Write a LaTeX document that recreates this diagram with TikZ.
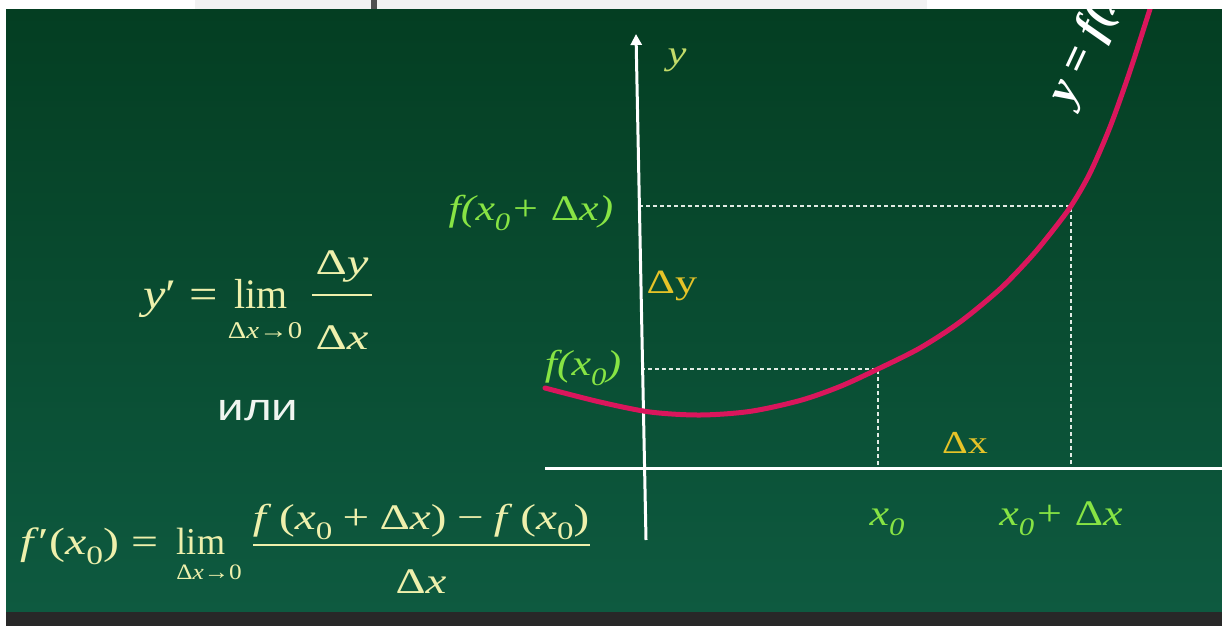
\documentclass[tikz,border=0pt]{standalone}
\usepackage{fontspec}
\usepackage{graphicx}
\setmainfont{Liberation Serif}
\newfontfamily\cyrsans{Liberation Sans}
\usetikzlibrary{arrows.meta}
\definecolor{bgtop}{RGB}{4,62,34}
\definecolor{bgbot}{RGB}{14,90,64}
\definecolor{fcol}{RGB}{238,240,172}
\definecolor{lgreen}{RGB}{135,228,68}
\definecolor{dyel}{RGB}{230,195,40}
\definecolor{ycol}{RGB}{195,220,105}
\definecolor{curvecol}{RGB}{218,22,92}
\definecolor{stripgrey}{RGB}{242,242,242}
\definecolor{barcol}{RGB}{40,40,40}
\definecolor{tickcol}{RGB}{80,80,80}
\definecolor{dashcol}{RGB}{225,235,228}
\definecolor{ilicol}{RGB}{240,245,240}
\newcommand{\sx}[2]{\scalebox{#1}[1]{#2}}
\newcommand{\fs}[1]{\fontsize{#1}{#1}\selectfont}
\newcommand{\lsub}[1]{\raisebox{-0.28em}{\scalebox{0.7}{#1}}}
\newcommand{\msp}{\hspace{0.22em}}
\tikzset{
  txt/.style={inner sep=0pt, outer sep=0pt},
  fml/.style={txt, text=fcol},
  glbl/.style={txt, text=lgreen, font=\fs{36}\itshape},
  dlbl/.style={txt, text=dyel},
  axisline/.style={white, line width=3pt},
  guide/.style={dashcol, line width=1.4pt, dash pattern=on 4pt off 3pt},
  fbar/.style={fcol, line width=2pt},
}
\begin{document}
\begin{tikzpicture}[x=1pt, y=-1pt]
\useasboundingbox (0,0) rectangle (1222,626);
% frame
\fill[white] (0,0) rectangle (1222,626);
\fill[stripgrey] (195,0) rectangle (927,10);
\fill[tickcol] (371,0) rectangle (377,10);
\shade[top color=bgtop, bottom color=bgbot] (6,10) rectangle (1222,612);
\fill[barcol] (6,612) rectangle (1222,626);

% guides
\coordinate (p1) at (878,369);
\coordinate (p2) at (1071,206);
\coordinate (g1) at (641,369);
\coordinate (g2) at (639,206);
\coordinate (q1) at (878,468);
\coordinate (q2) at (1071,468);
\draw[guide] (g1) -- (p1) -- (q1);
\draw[guide] (g2) -- (p2) -- (q2);

% axes
\coordinate (ybot) at (646,540);
\coordinate (ytop) at (636,34);
\coordinate (xl) at (545,468);
\coordinate (xr) at (1222,468);
\draw[axisline] (xl) -- (xr);
\draw[axisline, -{Triangle[width=11pt,length=11pt]}] (ybot) -- (ytop);

% curve and its label
\begin{scope}
\clip (6,10) rectangle (1222,612);
\draw[curvecol, line width=5pt, line cap=round] plot[smooth, tension=0.5] coordinates
 {(545,388) (600,402) (650,412) (700,415) (750,411.4) (800,400.5) (840,386.5) (878,369) (920,348) (960,322) (1000,289) (1030,258) (1050,234) (1071,206) (1090,173) (1110,127) (1130,71) (1150,9) (1153,0)};
\node[txt, text=white, font=\fs{46}\bfseries\itshape, anchor=base west, rotate=65] (yfx) at (1071,106) {y = f(x)};
\end{scope}

% axis labels
\node[txt, text=ycol, font=\fs{34}\itshape, anchor=base] (ylab) at (677,64) {\sx{1.25}{y}};
\node[glbl, anchor=base] (lfx0dx) at (531,220) {\sx{1.22}{f(x\lsub{0}+ \textup{Δ}x)}};
\node[glbl, anchor=base] (lfx0) at (583,375) {\sx{1.22}{f(x\lsub{0})}};
\node[glbl, anchor=base] (lx0) at (887,525) {\sx{1.22}{x\lsub{0}}};
\node[glbl, anchor=base] (lx0dx) at (1061,525) {\sx{1.22}{x\lsub{0}+ \textup{Δ}x}};
\node[dlbl, font=\fs{34}, anchor=base] (ldy) at (672,293) {\sx{1.3}{Δy}};
\node[dlbl, font=\fs{32}, anchor=base] (ldx) at (965,453) {\sx{1.25}{Δx}};

% formula 1
\node[fml, font=\fs{42}, anchor=base east] (f1lhs) at (218,308) {\sx{1.2}{\textit{y}′ =}};
\node[fml, font=\fs{42}, anchor=base] (f1lim) at (261,308) {\sx{0.95}{lim}};
\node[fml, font=\fs{24}, anchor=base] (f1sub) at (265,338) {\sx{1.2}{Δ\textit{x}→0}};
\node[fml, font=\fs{36}, anchor=base] (f1num) at (342,274) {\sx{1.35}{Δ\textit{y}}};
\node[fml, font=\fs{36}, anchor=base] (f1den) at (342,349) {\sx{1.35}{Δ\textit{x}}};
\coordinate (f1a) at (312,295);
\coordinate (f1b) at (372,295);
\draw[fbar] (f1a) -- (f1b);

% или
\node[txt, text=ilicol, font=\cyrsans\fs{38}, anchor=base] (ili) at (258,420) {\sx{1.25}{или}};

% formula 2
\node[fml, font=\fs{38}, anchor=base west] (f2lhs) at (20,554) {\sx{1.26}{\textit{f}′(\textit{x}\lsub{0}) =}};
\node[fml, font=\fs{38}, anchor=base] (f2lim) at (201,554) {\sx{0.95}{lim}};
\node[fml, font=\fs{22}, anchor=base] (f2sub) at (209,579) {\sx{1.15}{Δ\textit{x}→0}};
\node[fml, font=\fs{36}, anchor=base] (f2num) at (421,529) {\sx{1.31}{\textit{f}\,(\textit{x}\lsub{0}\msp+\msp Δ\textit{x})\msp−\msp\textit{f}\,(\textit{x}\lsub{0})}};
\node[fml, font=\fs{36}, anchor=base] (f2den) at (421,593) {\sx{1.3}{Δ\textit{x}}};
\coordinate (f2a) at (253,545);
\coordinate (f2b) at (590,545);
\draw[fbar] (f2a) -- (f2b);
\end{tikzpicture}
\end{document}
